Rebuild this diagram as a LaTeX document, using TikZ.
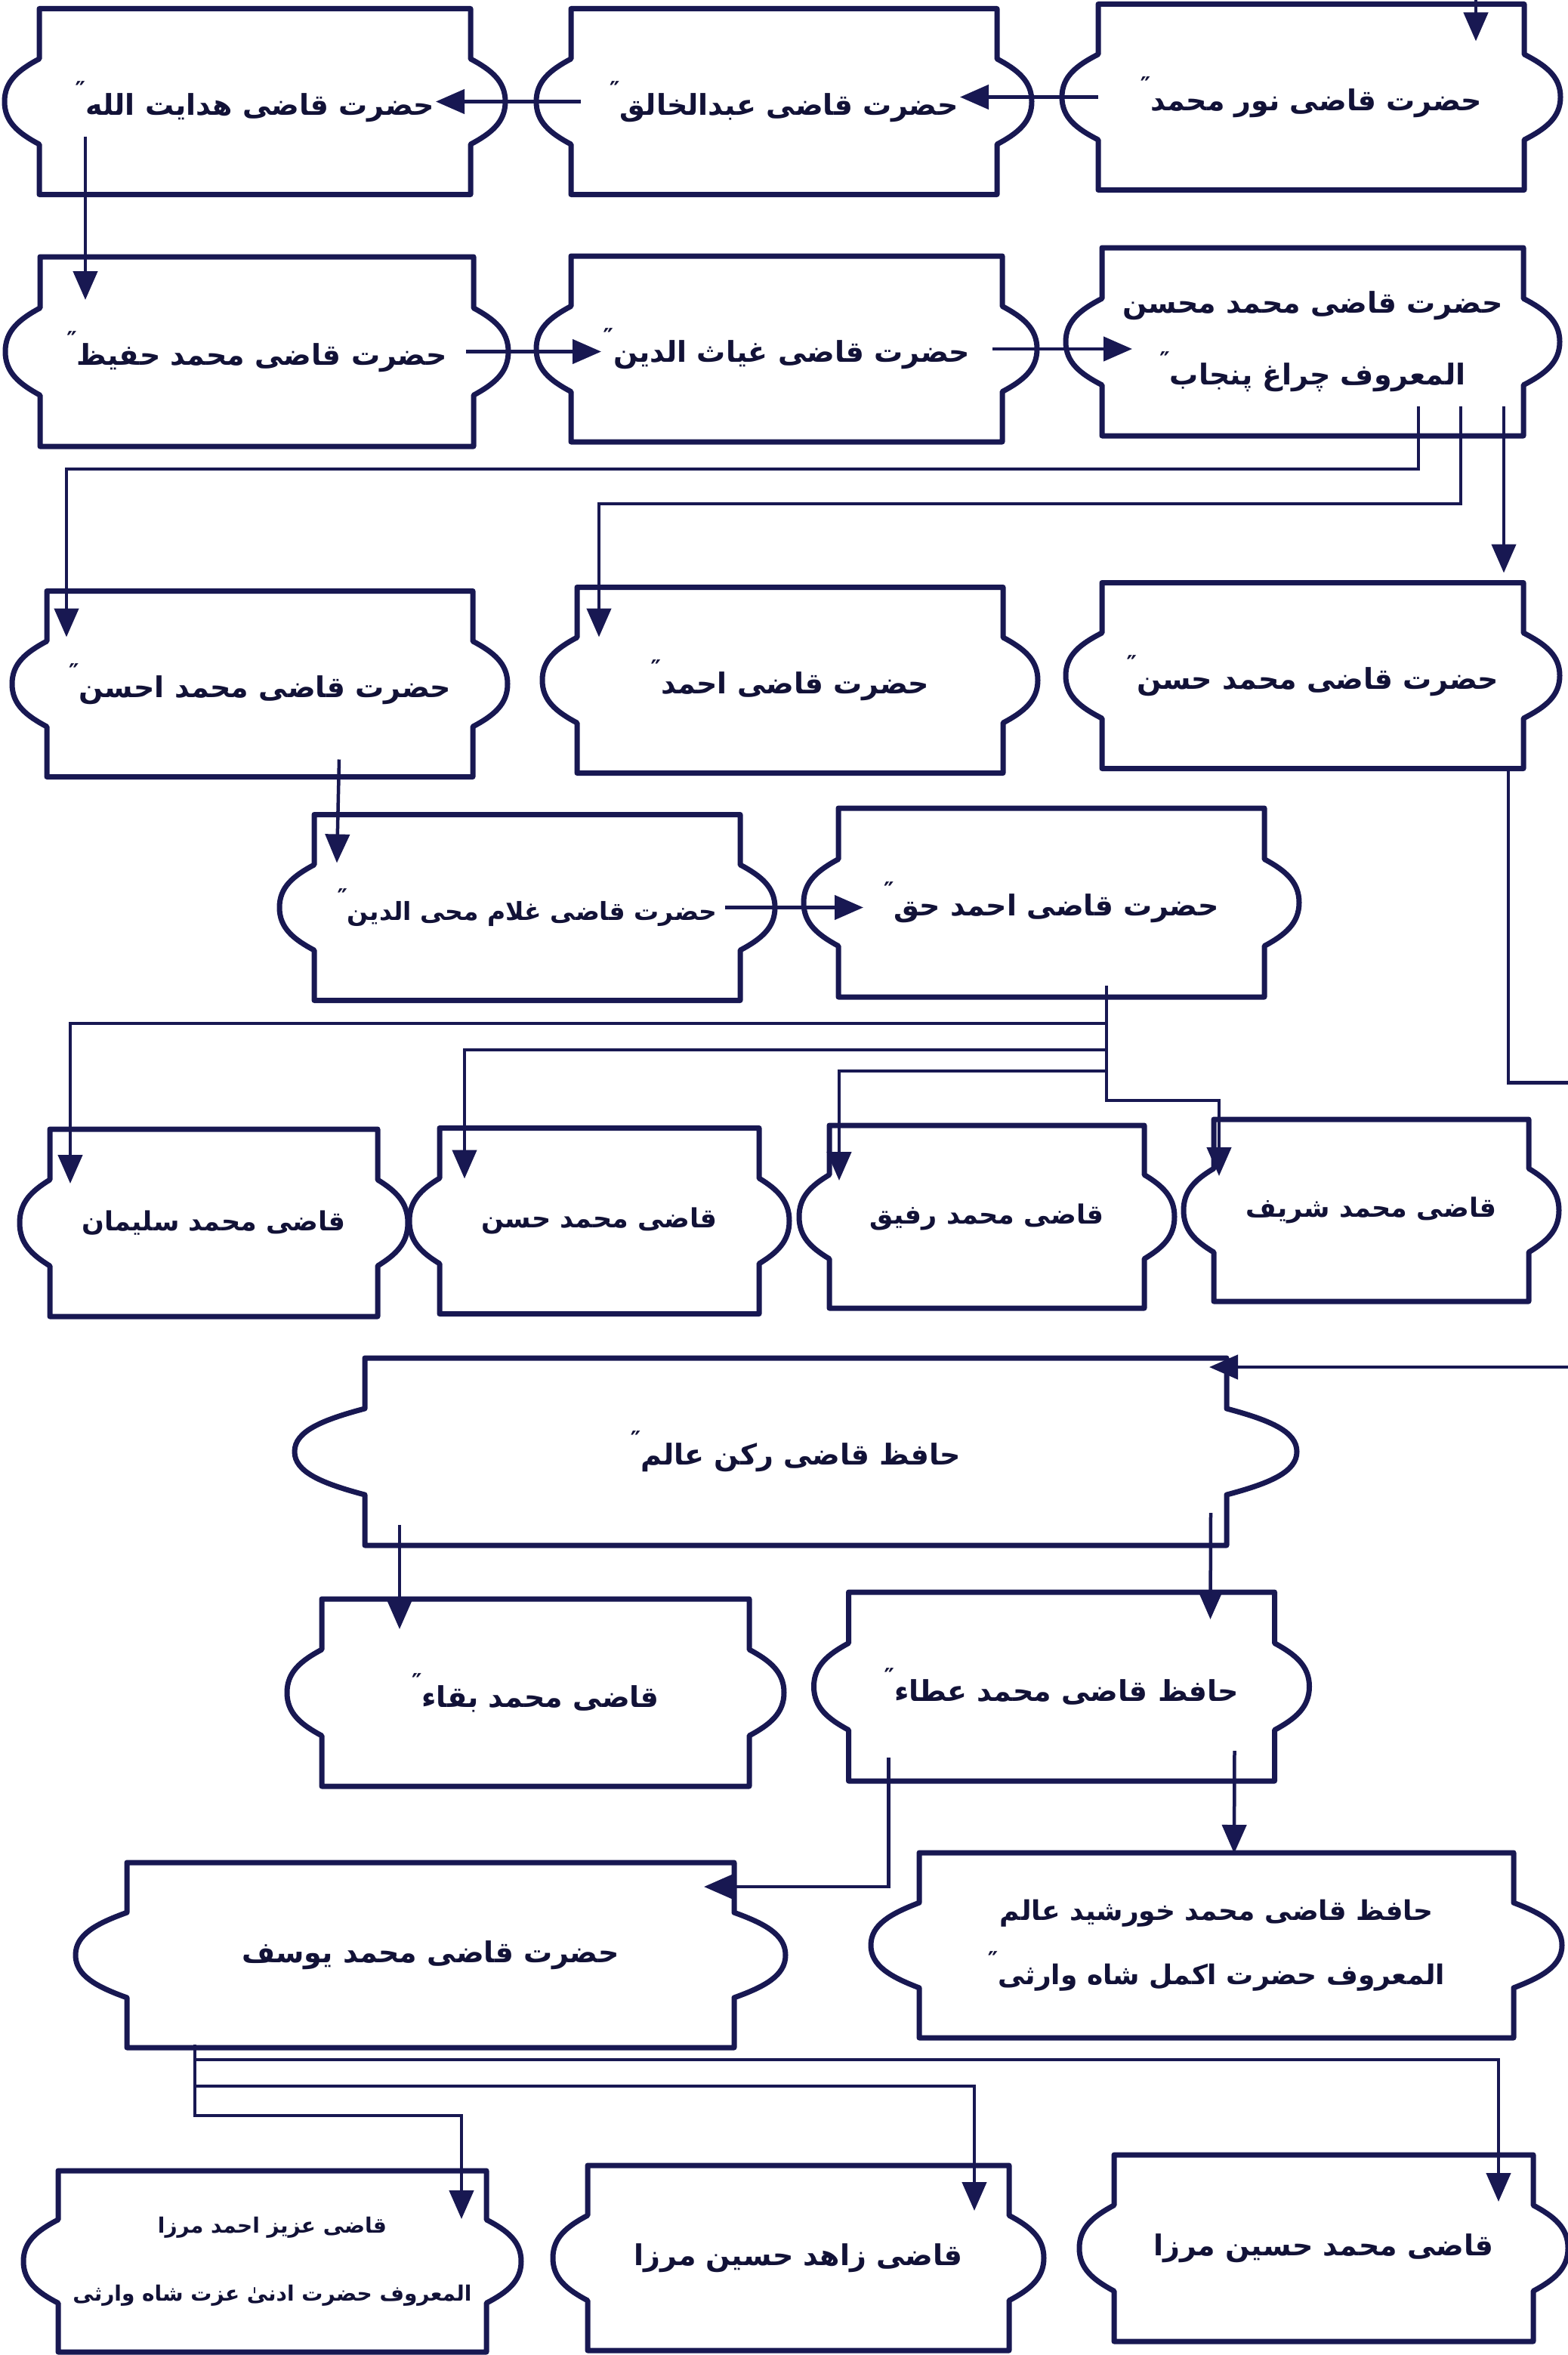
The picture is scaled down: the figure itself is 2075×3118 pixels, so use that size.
\documentclass[tikz,border=0pt]{standalone}
\usepackage{fontspec}
\usetikzlibrary{arrows.meta,calc}
\newfontfamily\urdu[Script=Arabic]{DejaVu Sans}
\TeXXeTstate=1
\definecolor{ink}{RGB}{24,24,82}
\definecolor{txt}{RGB}{18,18,55}
\newcommand\urline[1]{\beginR #1\endR}
\newcommand\rah{\raisebox{.6em}{\fontsize{30}{30}\selectfont ″}}
\tikzset{
	scroll/.style={draw=none,inner sep=0pt,outer sep=0pt,minimum width=564pt,minimum height=246pt,align=center,text=txt,font=\urdu\bfseries\fontsize{38}{95}\selectfont},
	small/.style={font=\urdu\bfseries\fontsize{35}{95}\selectfont},
	boxline/.style={draw=ink,line width=7pt,line join=round},
	conn/.style={draw=ink,line width=4.5pt,-{Triangle[length=38pt,width=32pt]}}
}
\newcommand\scrollout[2]{%
	\draw[boxline] (#1.north west) -- (#1.north east)
	-- ($(#1.north east)!.27!(#1.south east)$)
	.. controls ($(#1.north east)!.33!(#1.south east)+(.6*#2,0)$) and ($(#1.north east)!.39!(#1.south east)+(#2,0)$) .. ($(#1.east)+(#2,0)$)
	.. controls ($(#1.north east)!.61!(#1.south east)+(#2,0)$) and ($(#1.north east)!.67!(#1.south east)+(.6*#2,0)$) .. ($(#1.north east)!.73!(#1.south east)$)
	-- (#1.south east) -- (#1.south west)
	-- ($(#1.south west)!.27!(#1.north west)$)
	.. controls ($(#1.south west)!.33!(#1.north west)+(-.6*#2,0)$) and ($(#1.south west)!.39!(#1.north west)+(-#2,0)$) .. ($(#1.west)+(-#2,0)$)
	.. controls ($(#1.south west)!.61!(#1.north west)+(-#2,0)$) and ($(#1.south west)!.67!(#1.north west)+(-.6*#2,0)$) .. ($(#1.south west)!.73!(#1.north west)$)
	-- cycle;}
\begin{document}
\begin{tikzpicture}[x=1pt,y=-1pt]
	\fill[white] (0,0) rectangle (2075,3118);
	\useasboundingbox (0,0) rectangle (2075,3118);
	\node[scroll] (noor) at (1736,128.5) {\urline{حضرت قاضی نور محمد\rah}};
	\node[scroll] (khaliq) at (1038,134.5) {\urline{حضرت قاضی عبدالخالق\rah}};
	\node[scroll,minimum width=571pt] (hidayat) at (337.5,134.5) {\urline{حضرت قاضی هدایت الله\rah}};
	\node[scroll,minimum width=574pt,minimum height=251pt] (hafeez) at (340,465.5) {\urline{حضرت قاضی محمد حفیظ\rah}};
	\node[scroll,minimum width=571pt] (ghiyas) at (1041.5,462) {\urline{حضرت قاضی غیاث الدین\rah}};
	\node[scroll,minimum width=558pt,minimum height=249pt] (mohsin) at (1738,452.5) {\urline{حضرت قاضی محمد محسن}\\\urline{المعروف چراغ پنجاب\rah}};
	\node[scroll] (ahsan) at (344,905.5) {\urline{حضرت قاضی محمد احسن\rah}};
	\node[scroll] (ahmad) at (1046,900.5) {\urline{حضرت قاضی احمد\rah}};
	\node[scroll,minimum width=558pt] (hasan) at (1738,894.5) {\urline{حضرت قاضی محمد حسن\rah}};
	\node[scroll,font=\urdu\bfseries\fontsize{33}{95}\selectfont] (ghulam) at (698,1201.5) {\urline{حضرت قاضی غلام محی الدین\rah}};
	\node[scroll,minimum height=250pt] (haq) at (1392,1195) {\urline{حضرت قاضی احمد حق\rah}};
	\node[scroll,small,minimum width=434pt,minimum height=248pt] (sulaiman) at (283,1619) {\urline{قاضی محمد سلیمان}};
	\node[scroll,small,minimum width=423pt] (hasanb) at (793.5,1616.5) {\urline{قاضی محمد حسن}};
	\node[scroll,small,minimum width=417pt,minimum height=242pt] (rafiq) at (1306.5,1611) {\urline{قاضی محمد رفیق}};
	\node[scroll,small,minimum width=417pt,minimum height=241pt] (sharif) at (1815.5,1602.5) {\urline{قاضی محمد شریف}};
	\node[scroll,minimum width=1141pt,minimum height=248pt] (rukn) at (1053.5,1922) {\urline{حافظ قاضی رکن عالم\rah}};
	\node[scroll,minimum width=566pt,minimum height=248pt] (baqa) at (709,2241) {\urline{قاضی محمد بقاء\rah}};
	\node[scroll,minimum height=250pt] (ata) at (1405.5,2233) {\urline{حافظ قاضی محمد عطاء\rah}};
	\node[scroll,minimum width=804pt,minimum height=245pt] (yusuf) at (570,2588.5) {\urline{حضرت قاضی محمد یوسف}};
	\node[scroll,minimum width=787pt,minimum height=245pt,font=\urdu\bfseries\fontsize{36}{85}\selectfont] (khurshid) at (1610.5,2575.5) {\urline{حافظ قاضی محمد خورشید عالم}\\\urline{المعروف حضرت اکمل شاه وارثی\rah}};
	\node[scroll,minimum width=567pt,minimum height=240pt,font=\urdu\bfseries\fontsize{28}{90}\selectfont] (aziz) at (360.5,2994) {\urline{قاضی عزیز احمد مرزا}\\\urline{المعروف حضرت ادنیٰ عزت شاه وارثی}};
	\node[scroll,minimum width=558pt,minimum height=245pt] (zahid) at (1057,2989.5) {\urline{قاضی زاهد حسین مرزا}};
	\node[scroll,minimum width=555pt,minimum height=247pt] (mhussain) at (1752.5,2976.5) {\urline{قاضی محمد حسین مرزا}};
	\foreach \n/\b in {noor/48,khaliq/46,hidayat/46,hafeez/46,ghiyas/46,mohsin/48,ahsan/46,ahmad/46,hasan/48,ghulam/46,haq/46,sulaiman/40,hasanb/40,rafiq/40,sharif/40,rukn/93,baqa/46,ata/46,yusuf/68,khurshid/64,aziz/46,zahid/46,mhussain/46}
		\scrollout{\n}{\b};
	\coordinate (top) at (1954,-10);
	\coordinate (hq) at ($(haq.south west)+(355,-15)$);
	\coordinate (ys) at ($(yusuf.south west)+(90,-4)$);
	\draw[conn] (top) -- ($(top |- noor.north)+(0,49)$);
	\draw[conn] (noor.west) -- ($(noor.west -| khaliq.east)+(-49,0)$);
	\draw[conn] ($(khaliq.west)+(13,0)$) -- ($(khaliq.west -| hidayat.east)+(-46,0)$);
	\draw[conn] ($(hidayat.south west)+(61,-77)$) -- ($(hidayat.west |- hafeez.north)+(61,57)$);
	\draw[conn] ($(hafeez.east)+(-10,0)$) -- ($(hafeez.east -| ghiyas.west)+(40,0)$);
	\draw[conn] ($(ghiyas.east)+(-13,0)$) -- ($(ghiyas.east -| mohsin.west)+(40,0)$);
	\draw[conn] ($(mohsin.south)+(140,-39)$) -- ++(0,83) -| ($(ahsan.north west)+(26,61)$);
	\draw[conn] ($(mohsin.south)+(196,-39)$) -- ++(0,129) -| ($(ahmad.north west)+(29,66)$);
	\draw[conn] ($(mohsin.south east)+(-26,-39)$) -- ($(hasan.north east)+(-26,-13)$);
	\draw[conn] ($(ahsan.south west)+(387,-23)$) -- ($(ghulam.north west)+(30,64)$);
	\draw[conn] ($(ghulam.east)+(-20,0)$) -- ($(ghulam.east -| haq.west)+(33,0)$);
	\draw[conn] (hq) -- ++(0,50) -| ($(sulaiman.north west)+(27,72)$);
	\draw[conn] (hq) -- ++(0,85) -| ($(hasanb.north west)+(33,67)$);
	\draw[conn] (hq) -- ++(0,113) -| ($(rafiq.north west)+(13,73)$);
	\draw[conn] (hq) -- ++(0,152) -| ($(sharif.north west)+(7,75)$);
	\draw[conn] ($(hasan.south east)+(-20,0)$) -- ++(0,416) -- ++(110,0) |- ($(rukn.north east)+(-23,12)$);
	\draw[conn] ($(rukn.south west)+(46,-27)$) -- ($(baqa.north west)+(103,40)$);
	\draw[conn] ($(rukn.south east)+(-21,-43)$) -- ($(ata.north west)+(479,36)$);
	\draw[conn] ($(ata.south east)+(-53,-40)$) -- ($(khurshid.north west)+(417,1)$);
	\draw[conn] ($(ata.south west)+(53,-31)$) |- ($(yusuf.north east)+(-40,32)$);
	\draw[conn] (ys) -- ++(0,20) -| ($(mhussain.north west)+(509,62)$);
	\draw[conn] (ys) -- ++(0,55) -| ($(zahid.north west)+(512,60)$);
	\draw[conn] (ys) -- ++(0,94) -| ($(aziz.north west)+(534,64)$);
\end{tikzpicture}
\end{document}
